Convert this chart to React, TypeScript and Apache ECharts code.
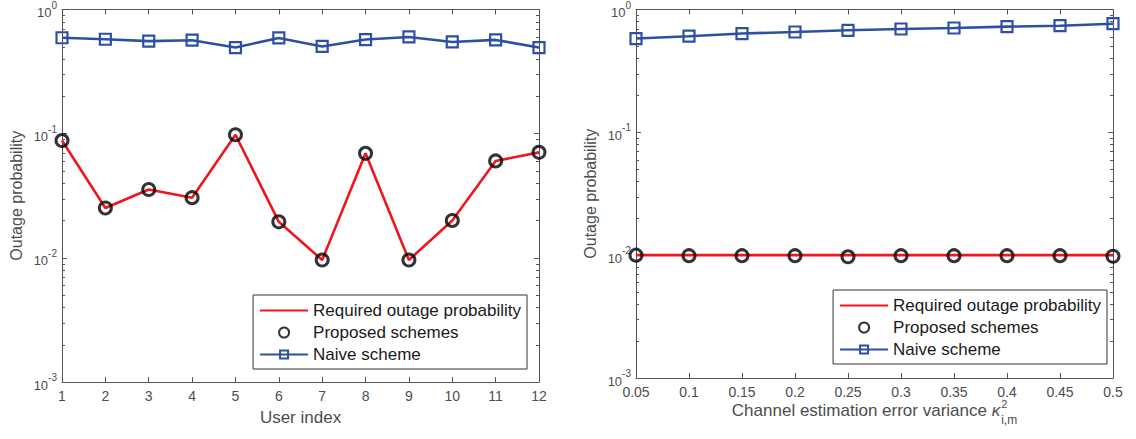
import React, { useEffect, useRef } from "react";
import * as echarts from "echarts";

// ---------- data ----------
const userIndex = ["1", "2", "3", "4", "5", "6", "7", "8", "9", "10", "11", "12"];
const requiredLeft = [0.088, 0.0252, 0.0355, 0.0305, 0.098, 0.0195, 0.0096, 0.0694, 0.0096, 0.02, 0.0603, 0.0707];
const proposedLeft = [0.088, 0.0252, 0.0355, 0.0305, 0.098, 0.0195, 0.0096, 0.0694, 0.0096, 0.02, 0.0603, 0.0707];
const naiveLeft = [0.592, 0.576, 0.556, 0.566, 0.494, 0.59, 0.504, 0.573, 0.601, 0.548, 0.569, 0.494];

const kappa = ["0.05", "0.1", "0.15", "0.2", "0.25", "0.3", "0.35", "0.4", "0.45", "0.5"];
const requiredRight = [0.01, 0.01, 0.01, 0.01, 0.01, 0.01, 0.01, 0.01, 0.01, 0.01];
const proposedRight = [0.01, 0.0099, 0.0099, 0.0099, 0.0097, 0.0099, 0.0099, 0.0099, 0.0099, 0.0098];
const naiveRight = [0.58, 0.606, 0.637, 0.656, 0.677, 0.694, 0.707, 0.725, 0.738, 0.766];

const minorTicks = [
  0.002, 0.003, 0.004, 0.005, 0.006, 0.007, 0.008, 0.009,
  0.02, 0.03, 0.04, 0.05, 0.06, 0.07, 0.08, 0.09,
  0.2, 0.3, 0.4, 0.5, 0.6, 0.7, 0.8, 0.9,
];

const seriesNames = ["Required outage probability", "Proposed schemes", "Naive scheme"];

// ---------- style ----------
const FONT = '"Liberation Sans", Arial, Helvetica, sans-serif';
const TEXT = "#4d4d4d";
const AXIS = "#555555";
const RED = "#f0161e";
const BLUE = "#2e50a4";
const BLACK = "#000000";

function measure(text: string, font: string) {
  const c = document.createElement("canvas").getContext("2d");
  if (!c) return text.length * 8;
  c.font = font;
  return c.measureText(text).width;
}

export default function App() {
  const ref = useRef<HTMLDivElement>(null);

  useEffect(() => {
    if (!ref.current) return;
    const chart = echarts.init(ref.current, undefined, { renderer: "svg" });

    const grids = [
      { left: 62, top: 6, width: 477, height: 376 },
      { left: 636, top: 5, width: 477, height: 373 },
    ];

    const catAxis = (grid: number, data: string[], pos: "bottom" | "top", name?: string) => ({
      type: "category",
      gridIndex: grid,
      position: pos,
      data,
      boundaryGap: false,
      name: name || "",
      nameLocation: "middle",
      nameGap: 27,
      nameTextStyle: { fontSize: 17, fontFamily: FONT, color: TEXT },
      axisLine: { show: true, lineStyle: { color: AXIS, width: 1 } },
      axisTick: { show: true, inside: true, length: 5, lineStyle: { color: AXIS } },
      axisLabel: {
        show: pos === "bottom",
        margin: 7,
        fontSize: 14,
        fontFamily: FONT,
        color: TEXT,
      },
      splitLine: { show: false },
    });

    const logAxis = (grid: number, pos: "left" | "right", name?: string) => ({
      type: "log",
      logBase: 10,
      gridIndex: grid,
      position: pos,
      min: 0.001,
      max: 1,
      name: name || "",
      nameLocation: "middle",
      nameGap: 38,
      nameTextStyle: { fontSize: 16, fontFamily: FONT, color: TEXT },
      axisLine: { show: true, lineStyle: { color: AXIS, width: 1 } },
      axisTick: { show: true, inside: true, length: 5, lineStyle: { color: AXIS } },
      axisLabel: {
        show: pos === "left",
        margin: 5,
        formatter: (v: number) => {
          const e = Math.round(Math.log10(v));
          return `{b|10}{s|${e}}`;
        },
        rich: {
          b: { fontSize: 13, lineHeight: 13, padding: [6, 0, 0, 0], fontFamily: FONT, color: TEXT },
          s: { fontSize: 10, lineHeight: 10, padding: [0, 0, 9, 0], fontFamily: FONT, color: TEXT },
        },
      },
      splitLine: { show: false },
    });

    const minorTickSeries = (axisIdx: number) => ({
      type: "custom",
      xAxisIndex: axisIdx,
      yAxisIndex: axisIdx,
      silent: true,
      clip: false,
      z: 1,
      data: minorTicks.map((v) => [0, v]),
      renderItem: (params: any, api: any) => {
        const p = api.coord([api.value(0), api.value(1)]);
        const cs = params.coordSys;
        const y = Math.round(p[1]) + 0.5;
        return {
          type: "group",
          children: [
            { type: "line", shape: { x1: cs.x, y1: y, x2: cs.x + 3, y2: y }, style: { stroke: AXIS, lineWidth: 1 } },
            {
              type: "line",
              shape: { x1: cs.x + cs.width, y1: y, x2: cs.x + cs.width - 3, y2: y },
              style: { stroke: AXIS, lineWidth: 1 },
            },
          ],
        };
      },
    });

    const plotSeries = (axisIdx: number, req: number[], prop: number[], naive: number[]) => [
      {
        name: seriesNames[0],
        type: "line",
        xAxisIndex: axisIdx,
        yAxisIndex: axisIdx,
        data: req,
        symbol: "none",
        lineStyle: { color: RED, width: 2.6 },
        itemStyle: { color: RED },
        z: 2,
      },
      {
        name: seriesNames[1],
        type: "scatter",
        xAxisIndex: axisIdx,
        yAxisIndex: axisIdx,
        data: prop,
        symbol: "circle",
        symbolSize: 12,
        itemStyle: { color: "rgba(0,0,0,0)", borderColor: BLACK, borderWidth: 3 },
        z: 3,
      },
      {
        name: seriesNames[2],
        type: "line",
        xAxisIndex: axisIdx,
        yAxisIndex: axisIdx,
        data: naive,
        symbol: "rect",
        symbolSize: 11,
        showAllSymbol: true,
        lineStyle: { color: BLUE, width: 2.6 },
        itemStyle: { color: "rgba(0,0,0,0)", borderColor: BLUE, borderWidth: 2.2 },
        z: 4,
      },
    ];

    const legend = (right: number, bottom: number) => ({
      orient: "vertical",
      right,
      bottom,
      itemWidth: 48,
      itemHeight: 10,
      itemGap: 5,
      padding: [7, 6, 6, 6],
      borderColor: "#333",
      borderWidth: 1,
      backgroundColor: "#fff",
      selectedMode: false,
      textStyle: { fontSize: 17, lineHeight: 17, fontFamily: FONT, color: "#1a1a1a" },
      data: [
        { name: seriesNames[0], itemStyle: { color: "rgba(0,0,0,0)", borderWidth: 0, opacity: 0 } },
        { name: seriesNames[1] },
        { name: seriesNames[2] },
      ],
    });

    // right x-axis label with kappa sup/sub
    const mainTxt = "Channel estimation error variance ";
    const mainFont = `17px ${FONT}`;
    const kFont = `italic 17px ${FONT}`;
    const supFont = `11px ${FONT}`;
    const subFont = `12px ${FONT}`;
    const wMain = measure(mainTxt, mainFont);
    const wK = measure("κ", kFont);
    const wSup = measure("2", supFont);
    const wSub = measure("i,m", subFont);
    const total = wMain + wK + 1 + Math.max(wSup, wSub);
    const cx = grids[1].left + grids[1].width / 2;
    const x0 = cx - total / 2;

    chart.setOption({
      animation: false,
      backgroundColor: "#fff",
      grid: grids,
      xAxis: [
        catAxis(0, userIndex, "bottom", "User index"),
        catAxis(0, userIndex, "top"),
        catAxis(1, kappa, "bottom"),
        catAxis(1, kappa, "top"),
      ],
      yAxis: [
        logAxis(0, "left", "Outage probability"),
        logAxis(0, "right"),
        logAxis(1, "left", "Outage probability"),
        logAxis(1, "right"),
      ],
      legend: [legend(1136 - 527, 439 - 369), legend(1136 - 1107, 439 - 364)],
      series: [
        minorTickSeries(0),
        minorTickSeries(2),
        ...plotSeries(0, requiredLeft, proposedLeft, naiveLeft),
        ...plotSeries(2, requiredRight, proposedRight, naiveRight),
      ],
      graphic: [
        {
          type: "text",
          x: x0,
          y: 410,
          style: { text: mainTxt, font: mainFont, fill: TEXT, verticalAlign: "middle", align: "left" },
        },
        {
          type: "text",
          x: x0 + wMain,
          y: 410,
          style: { text: "κ", font: kFont, fill: TEXT, verticalAlign: "middle", align: "left" },
        },
        {
          type: "text",
          x: x0 + wMain + wK + 1,
          y: 404,
          style: { text: "2", font: supFont, fill: TEXT, verticalAlign: "middle", align: "left" },
        },
        {
          type: "text",
          x: x0 + wMain + wK + 1,
          y: 420,
          style: { text: "i,m", font: subFont, fill: TEXT, verticalAlign: "middle", align: "left" },
        },
      ],
    });

    return () => chart.dispose();
  }, []);

  return (
    <div
      ref={ref}
      style={{ position: "absolute", left: 0, top: 0, width: 1136, height: 439, background: "#fff" }}
    />
  );
}
